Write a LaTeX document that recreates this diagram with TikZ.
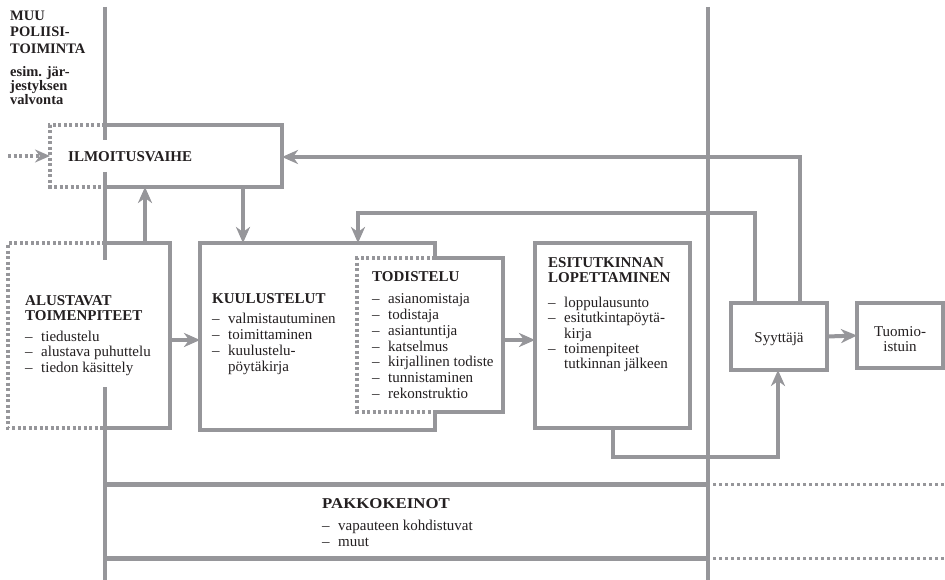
\documentclass[tikz,border=0pt]{standalone}
\usepackage{fontspec}
\setmainfont{Liberation Serif}
\newfontfamily\wideserif[FakeStretch=1.12]{Liberation Serif}
\usetikzlibrary{arrows.meta}
\definecolor{lg}{RGB}{150,150,154}
\definecolor{tx}{RGB}{35,31,32}
\newcommand{\itm}{\makebox[16pt][l]{–}}
\newcommand{\ind}{\hspace*{16pt}}
\begin{document}
\begin{tikzpicture}[x=1pt,y=-1pt,
  gl/.style={draw=lg,line width=4pt},
  thick band/.style={draw=lg,line width=5pt},
  dl/.style={draw=lg,line width=3.5pt,dash pattern=on 3pt off 2.5pt},
  dotl/.style={draw=lg,line width=3pt,dash pattern=on 3pt off 3pt},
  arr/.style={draw=lg,line width=4pt,-{Stealth[length=16pt,width=14pt,inset=5pt]}},
  darr/.style={draw=lg,line width=3.5pt,dash pattern=on 3pt off 2.5pt,-{Stealth[length=15pt,width=13pt,inset=5pt]}},
  area/.style={inner sep=0pt,outer sep=0pt},
  blk/.style={inner sep=0pt,anchor=north west,align=left,text=tx,font=\fontsize{15}{15.7}\selectfont},
  hd/.style={inner sep=0pt,text=tx,font=\fontsize{15}{15.7}\selectfont\bfseries},
]
\useasboundingbox[fill=white] (0,0) rectangle (945,580);

% box areas
\node[area,minimum width=232pt,minimum height=62pt] (ilm) at (166,156) {};
\node[area,minimum width=162pt,minimum height=185pt] (alu) at (89,335.5) {};
\node[area,minimum width=235pt,minimum height=187pt] (kuu) at (317.5,336.5) {};
\node[area,minimum width=146pt,minimum height=154pt] (tod) at (430,335) {};
\node[area,minimum width=155pt,minimum height=185pt] (esi) at (612.5,335.5) {};
\node[area,minimum width=96pt,minimum height=67pt] (syy) at (779,336.5) {};
\node[area,minimum width=86pt,minimum height=65pt] (tuo) at (900,335.5) {};

% main vertical lines
\draw[gl] (105,7) -- (105,140);
\draw[gl] (105,172) -- (105,260);
\draw[gl] (105,387) -- (105,580);
\draw[gl] (708,7) -- (708,580);

% pakkokeinot band
\draw[thick band] (105,484) -- (708,484);
\draw[thick band] (105,558) -- (708,558);
\draw[dotl] (713,484) -- (945,484);
\draw[dotl] (713,558) -- (945,558);

% ILMOITUSVAIHE
\draw[dl] (105,125) -- (ilm.north west) -- (ilm.south west) -- (105,187);
\draw[gl] (105,125) -- (ilm.north east) -- (ilm.south east) -- (105,187);
% ALUSTAVAT
\draw[dl] (105,243) -- (alu.north west) -- (alu.south west) -- (105,428);
\draw[gl] (105,243) -- (alu.north east) -- (alu.south east) -- (105,428);
% KUULUSTELUT
\draw[gl] (kuu.east |- tod.north) -- (kuu.north east) -- (kuu.north west) -- (kuu.south west) -- (kuu.south east) -- (kuu.east |- tod.south);
% TODISTELU
\draw[dl] (kuu.east |- tod.north) -- (tod.north west) -- (tod.south west) -- (kuu.east |- tod.south);
\draw[gl] (kuu.east |- tod.north) -- (tod.north east) -- (tod.south east) -- (kuu.east |- tod.south);
% others
\draw[gl] (esi.north west) rectangle (esi.south east);
\draw[gl] (syy.north west) rectangle (syy.south east);
\draw[gl] (tuo.north west) rectangle (tuo.south east);

% connectors
\coordinate (src) at (8,156);
\draw[darr] (src) -- (ilm.west);
\draw[arr] ([xshift=137pt]alu.north west) -- ([xshift=137pt]alu.north west |- ilm.south);
\draw[arr] ([xshift=-39pt]ilm.south east) -- ([xshift=-39pt]ilm.south east |- kuu.north);
\draw[arr] ([yshift=-4.5pt]alu.east) -- ([yshift=-4.5pt]alu.east -| kuu.west);
\draw[arr] ([yshift=-5pt]tod.east) -- ([yshift=-5pt]tod.east -| esi.west);
\draw[arr] ([xshift=21pt]syy.north) |- ([yshift=-1pt]ilm.east);
\coordinate (bend) at (358,213);
\draw[arr] ([xshift=-24pt]syy.north) |- (bend) -- (bend |- kuu.north);
\coordinate (loop) at (778,457);
\draw[arr] (esi.south) |- (loop) -- (loop |- syy.south);
\draw[arr] (syy.east) -- (tuo.west);

% texts
\node[blk,font=\fontsize{14.5}{16.5}\selectfont\bfseries] (muu) at (10,10.4)
  {MUU\\POLIISI-\\TOIMINTA\\[6.5pt]esim. jär-\\[-2.5pt]jestyksen\\[-2.5pt]valvonta};
\node[hd,anchor=base west] (ilmt) at (68,162) {ILMOITUSVAIHE};
\node[blk] (alut) at (25,295.1)
  {\textbf{ALUSTAVAT}\\\textbf{TOIMENPITEET}\\[4.5pt]\itm tiedustelu\\\itm alustava puhuttelu\\\itm tiedon käsittely};
\node[blk] (kuut) at (212,293.1)
  {\textbf{KUULUSTELUT}\\[5pt]\itm valmistautuminen\\\itm toimittaminen\\\itm kuulustelu-\\\ind pöytäkirja};
\node[blk] (todt) at (372,271.1)
  {\textbf{TODISTELU}\\[7pt]\itm asianomistaja\\\itm todistaja\\\itm asiantuntija\\\itm katselmus\\\itm kirjallinen todiste\\\itm tunnistaminen\\\itm rekonstruktio};
\node[blk,font=\fontsize{15}{15.2}\selectfont] (esit) at (548,257.1)
  {\textbf{ESITUTKINNAN}\\\textbf{LOPETTAMINEN}\\[10pt]\itm loppulausunto\\\itm esitutkintapöytä-\\\ind kirja\\\itm toimenpiteet\\\ind tutkinnan jälkeen};
\node[inner sep=0pt,anchor=base,text=tx,font=\fontsize{15}{15.5}\selectfont] (syyt) at (779,342) {Syyttäjä};
\node[inner sep=0pt,align=center,text=tx,font=\fontsize{15}{15}\selectfont] (tuot) at (900,339) {Tuomio-\\istuin};
\node[blk] (pakt) at (322,498.1)
  {{\wideserif\bfseries PAKKOKEINOT}\\[7pt]\itm vapauteen kohdistuvat\\\itm muut};
\end{tikzpicture}
\end{document}
